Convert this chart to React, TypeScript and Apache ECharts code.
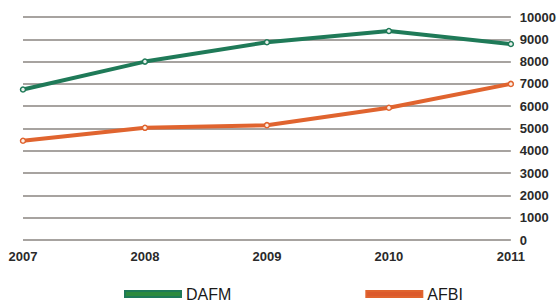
import React, { useEffect, useRef } from "react";
import * as echarts from "echarts";

const years = ["2007", "2008", "2009", "2010", "2011"];
const dafm = [6750, 8000, 8870, 9370, 8790];
const afbi = [4450, 5030, 5150, 5930, 7000];
const yTicks = { min: 0, max: 10000, interval: 1000 };

export default function App() {
  const ref = useRef<HTMLDivElement>(null);
  useEffect(() => {
    const chart = echarts.init(ref.current!, undefined, { renderer: "svg" });
    const font = "'Liberation Sans', Arial, Helvetica, sans-serif";
    chart.setOption({
      animation: false,
      backgroundColor: "#ffffff",
      grid: { left: 23, right: 46, top: 17, bottom: 64, containLabel: false },
      legend: {
        left: 124,
        top: 285,
        padding: 0,
        itemWidth: 56,
        itemHeight: 6,
        itemGap: 134,
        itemTextGap: 1,
        icon: "rect",
        textStyle: { fontFamily: font, fontSize: 16, lineHeight: 18, color: "#1a1a1a" },
        data: [
          { name: "DAFM", itemStyle: { color: "#2c8a3e" } },
          { name: "AFBI", itemStyle: { color: "#dc5a2c" } },
        ],
      },
      xAxis: {
        type: "category",
        data: years,
        boundaryGap: false,
        axisLine: { show: false },
        axisTick: { show: false },
        axisLabel: {
          margin: 10,
          fontFamily: font,
          fontSize: 13,
          fontWeight: "bold",
          color: "#2a2a2a",
        },
        splitLine: { show: false },
      },
      yAxis: {
        type: "value",
        position: "right",
        min: yTicks.min,
        max: yTicks.max,
        interval: yTicks.interval,
        axisLine: { show: false },
        axisTick: { show: false },
        axisLabel: {
          margin: 9,
          fontFamily: font,
          fontSize: 13,
          fontWeight: "bold",
          color: "#2a2a2a",
          formatter: (v: number) => String(v),
        },
        splitLine: { show: true, lineStyle: { color: "#8a8581", width: 1.5 } },
      },
      series: [
        {
          name: "DAFM",
          type: "line",
          data: dafm,
          symbol: "circle",
          symbolSize: 5,
          lineStyle: { color: "#1f7a58", width: 4 },
          itemStyle: { color: "#e8f0ec", borderColor: "#1f7a58", borderWidth: 1.5 },
        },
        {
          name: "AFBI",
          type: "line",
          data: afbi,
          symbol: "circle",
          symbolSize: 5,
          lineStyle: { color: "#e0642f", width: 4 },
          itemStyle: { color: "#fbeee6", borderColor: "#e0642f", borderWidth: 1.5 },
        },
      ],
    });
    return () => chart.dispose();
  }, []);
  return <div ref={ref} style={{ width: 559, height: 304, position: "absolute", left: 0, top: 0 }} />;
}
